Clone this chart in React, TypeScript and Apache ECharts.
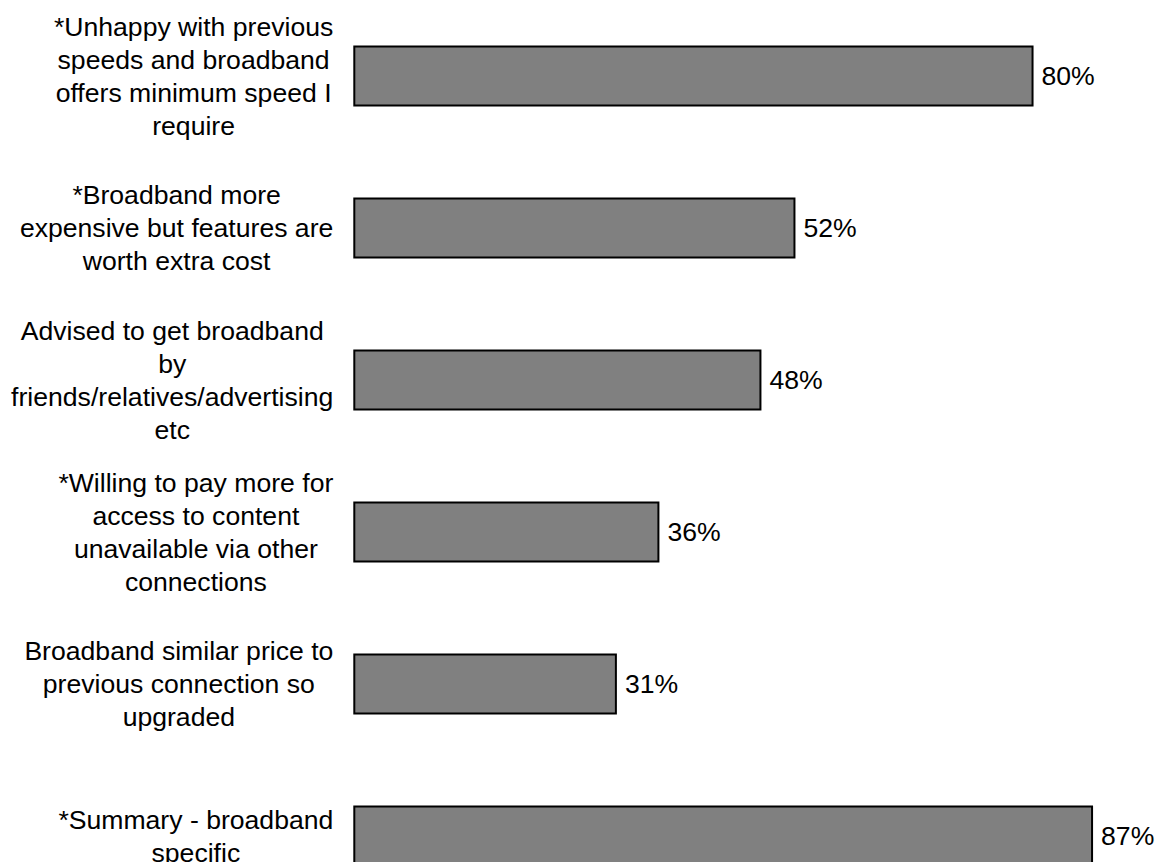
import React, { useEffect, useRef } from "react";
import * as echarts from "echarts";

const categoryLines: string[][] = [
  ["*Unhappy with previous", "speeds and broadband", "offers minimum speed I", "require"],
  ["*Broadband more", "expensive but features are", "worth extra cost"],
  ["Advised to get broadband", "by", "friends/relatives/advertising", "etc"],
  ["*Willing to pay more for", "access to content", "unavailable via other", "connections"],
  ["Broadband similar price to", "previous connection so", "upgraded"],
  ["*Summary - broadband", "specific"],
];
const categories: string[] = categoryLines.map((l) => l.join(" "));
const values: number[] = [80, 52, 48, 36, 31, 87];

const FONT = "'Liberation Sans', Arial, Helvetica, sans-serif";
const FS = 26.6;
const LH = 33;

export default function App() {
  const ref = useRef<HTMLDivElement>(null);
  useEffect(() => {
    if (!ref.current) return;
    const chart = echarts.init(ref.current, undefined, { renderer: "svg" });
    chart.setOption({
      animation: false,
      backgroundColor: "#ffffff",
      grid: {
        left: 353.3,
        top: 0,
        width: 850.3,
        height: 912,
        containLabel: false,
        outerBoundsMode: "none",
      },
      xAxis: {
        type: "value",
        min: 0,
        max: 100,
        show: false,
      },
      yAxis: {
        type: "category",
        inverse: true,
        data: categories,
        axisLine: { show: false },
        axisTick: { show: false },
        splitLine: { show: false },
        axisLabel: {
          interval: 0,
          margin: 20,
          color: "#000",
          fontFamily: FONT,
          fontSize: FS,
          lineHeight: LH,
          formatter: (_v: string, idx: number) =>
            categoryLines[idx].map((s) => `{c|${s}}`).join("\n"),
          rich: {
            c: {
              align: "center",
              color: "#000",
              fontFamily: FONT,
              fontSize: FS,
              lineHeight: LH,
            },
          },
        },
      },
      series: [
        {
          type: "bar",
          data: values,
          barWidth: 61,
          itemStyle: { color: "#808080", borderColor: "#000", borderWidth: 2 },
          label: {
            show: true,
            position: "right",
            distance: 8,
            formatter: "{c}%",
            color: "#000",
            fontFamily: FONT,
            fontSize: FS,
          },
        },
      ],
    });
    return () => chart.dispose();
  }, []);
  return (
    <div
      style={{
        position: "absolute",
        left: 0,
        top: 0,
        width: 1156,
        height: 862,
        overflow: "hidden",
        background: "#fff",
      }}
    >
      <div ref={ref} style={{ width: 1210, height: 912 }} />
    </div>
  );
}
